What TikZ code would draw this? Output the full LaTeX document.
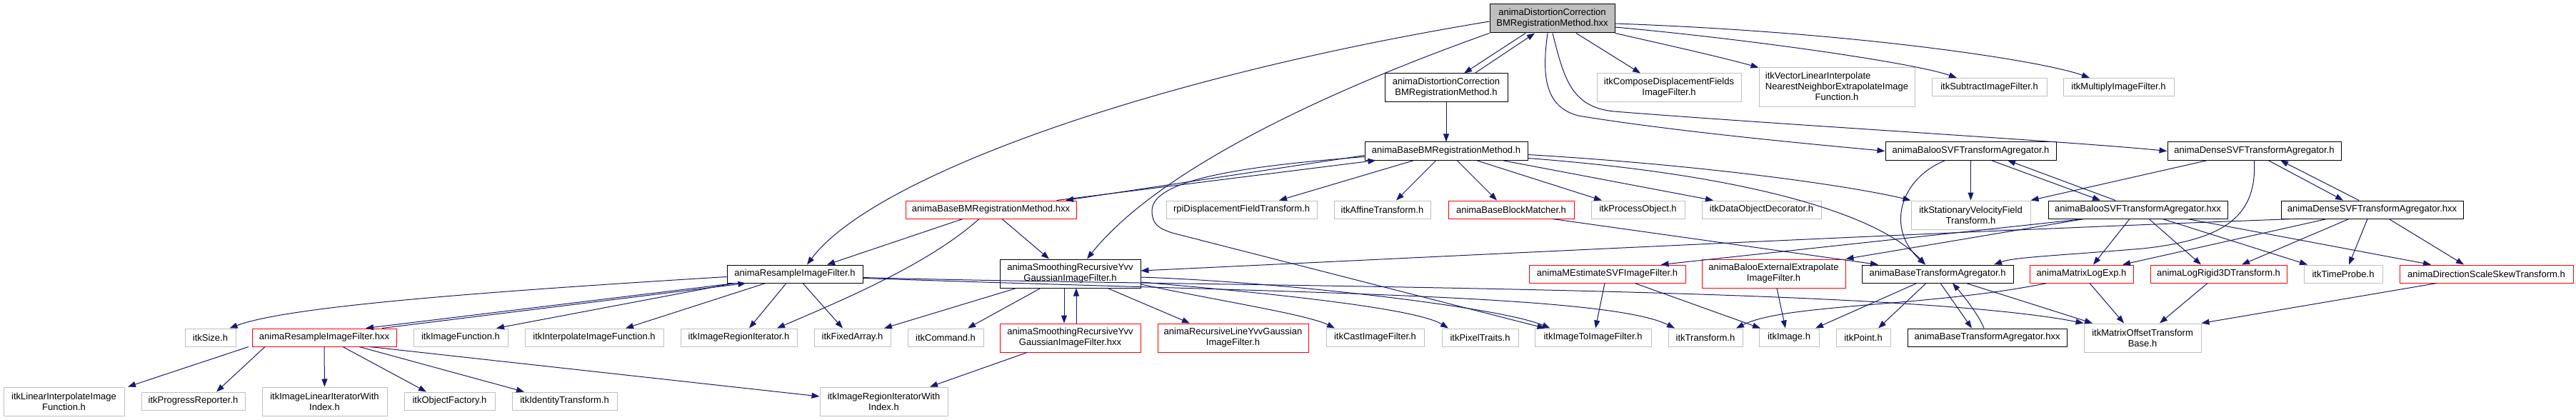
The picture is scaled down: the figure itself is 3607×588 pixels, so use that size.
\documentclass[tikz,border=0pt]{standalone}
\usepackage{fontspec}
\setmainfont{Liberation Sans}
\usetikzlibrary{arrows.meta}
\definecolor{edgec}{HTML}{191970}
\definecolor{grayb}{HTML}{BFBFBF}
\definecolor{redb}{HTML}{FF0000}
\begin{document}
\begin{tikzpicture}[x=1pt,y=-1pt,
  box/.style={draw, rectangle, inner sep=0pt, align=center, font=\fontsize{13}{15}\selectfont, line width=1pt},
  gbox/.style={box, draw=grayb},
  bbox/.style={box, draw=black},
  rbox/.style={box, draw=redb},
  tbox/.style={box, draw=black, fill=grayb},
  edge/.style={draw=edgec, line width=1pt, -{Triangle[length=11pt,width=8pt]}},
  s1/.style={minimum height=25pt},
  s2/.style={minimum height=40pt},
  s3/.style={minimum height=55pt}
]
\fill[white] (0,0) rectangle (3607,588);
\useasboundingbox (0,0) rectangle (3607,588);

% row 0
\node[tbox,s2,minimum width=175pt] (T) at (2173.5,26) {animaDistortionCorrection\\BMRegistrationMethod.hxx};
% row 1
\node[bbox,s2,minimum width=172pt] (DCh) at (2025,123) {animaDistortionCorrection\\BMRegistrationMethod.h};
\node[gbox,s2,minimum width=202pt] (Compose) at (2337,123) {itkComposeDisplacementFields\\ImageFilter.h};
\node[gbox,s3,minimum width=218pt] (VecLin) at (2572,122.5) {\begin{tabular}{@{}l@{}}itkVectorLinearInterpolate\\NearestNeighborExtrapolateImage\\\multicolumn{1}{@{}c@{}}{Function.h}\end{tabular}};
\node[gbox,s1,minimum width=161pt] (Subtract) at (2785.5,122) {itkSubtractImageFilter.h};
\node[gbox,s1,minimum width=155pt] (Multiply) at (2966.5,122) {itkMultiplyImageFilter.h};
% row 2
\node[bbox,s1,minimum width=228pt] (BBMh) at (2025,211.5) {animaBaseBMRegistrationMethod.h};
\node[bbox,s1,minimum width=239pt] (BSh) at (2759.5,211.5) {animaBalooSVFTransformAgregator.h};
\node[bbox,s1,minimum width=243pt] (DSh) at (3156.5,211.5) {animaDenseSVFTransformAgregator.h};
% row 3
\node[rbox,s1,minimum width=239pt] (BBMhxx) at (1387.5,293.5) {animaBaseBMRegistrationMethod.hxx};
\node[gbox,s1,minimum width=211pt] (rpiDisp) at (1738.5,293.5) {rpiDisplacementFieldTransform.h};
\node[gbox,s1,minimum width=135pt] (Affine) at (1935.5,293.5) {itkAffineTransform.h};
\node[rbox,s1,minimum width=176pt] (BBM) at (2116,293.5) {animaBaseBlockMatcher.h};
\node[gbox,s1,minimum width=131pt] (ProcObj) at (2293.5,293.5) {itkProcessObject.h};
\node[gbox,s1,minimum width=167pt] (DataObjDec) at (2466.5,293.5) {itkDataObjectDecorator.h};
\node[gbox,s2,minimum width=167pt] (SVF) at (2759.5,301) {itkStationaryVelocityField\\Transform.h};
\node[bbox,s1,minimum width=251pt] (BShxx) at (2993.5,293.5) {animaBalooSVFTransformAgregator.hxx};
\node[bbox,s1,minimum width=255pt] (DShxx) at (3321.5,293.5) {animaDenseSVFTransformAgregator.hxx};
% row 4
\node[bbox,s1,minimum width=190pt] (RIFh) at (1113,383.5) {animaResampleImageFilter.h};
\node[bbox,s2,minimum width=197pt] (SRh) at (1498.5,383) {animaSmoothingRecursiveYvv\\GaussianImageFilter.h};
\node[rbox,s1,minimum width=219pt] (MEst) at (2250.5,383.5) {animaMEstimateSVFImageFilter.h};
\node[rbox,s2,minimum width=201pt] (BEE) at (2483.5,383) {animaBalooExternalExtrapolate\\ImageFilter.h};
\node[bbox,s1,minimum width=212pt] (BTAh) at (2713,383.5) {animaBaseTransformAgregator.h};
\node[rbox,s1,minimum width=145pt] (MLE) at (2914.5,383.5) {animaMatrixLogExp.h};
\node[rbox,s1,minimum width=191pt] (LR3) at (3106.5,383.5) {animaLogRigid3DTransform.h};
\node[gbox,s1,minimum width=110pt] (TimeProbe) at (3281,383.5) {itkTimeProbe.h};
\node[rbox,s1,minimum width=243pt] (DSS) at (3481.5,383.5) {animaDirectionScaleSkewTransform.h};
% row 5
\node[gbox,s1,minimum width=71pt] (Size) at (294.5,472.5) {itkSize.h};
\node[rbox,s1,minimum width=202pt] (RIFhxx) at (454,472.5) {animaResampleImageFilter.hxx};
\node[gbox,s1,minimum width=132pt] (ImgFunc) at (645,472.5) {itkImageFunction.h};
\node[gbox,s1,minimum width=194pt] (InterpImgFunc) at (832,472.5) {itkInterpolateImageFunction.h};
\node[gbox,s1,minimum width=163pt] (ImgRegIt) at (1034.5,472.5) {itkImageRegionIterator.h};
\node[gbox,s1,minimum width=107pt] (FixedArray) at (1193.5,472.5) {itkFixedArray.h};
\node[gbox,s1,minimum width=106pt] (Command) at (1324,472.5) {itkCommand.h};
\node[rbox,s2,minimum width=197pt] (SRhxx) at (1498.5,473) {animaSmoothingRecursiveYvv\\GaussianImageFilter.hxx};
\node[rbox,s2,minimum width=211pt] (RLh) at (1726.5,473) {animaRecursiveLineYvvGaussian\\ImageFilter.h};
\node[gbox,s1,minimum width=137pt] (CastImg) at (1925.5,472.5) {itkCastImageFilter.h};
\node[gbox,s1,minimum width=107pt] (PixelTraits) at (2072.5,472.5) {itkPixelTraits.h};
\node[gbox,s1,minimum width=163pt] (ImgToImg) at (2230.5,472.5) {itkImageToImageFilter.h};
\node[gbox,s1,minimum width=104pt] (Transform) at (2388,472.5) {itkTransform.h};
\node[gbox,s1,minimum width=84pt] (Image) at (2505,472.5) {itkImage.h};
\node[gbox,s1,minimum width=76pt] (Point) at (2609,472.5) {itkPoint.h};
\node[bbox,s1,minimum width=223pt] (BTAhxx) at (2782.5,472.5) {animaBaseTransformAgregator.hxx};
\node[gbox,s2,minimum width=164pt] (MOTB) at (3000,473) {itkMatrixOffsetTransform\\Base.h};
% row 6
\node[gbox,s2,minimum width=169pt] (LinInterp) at (89.5,562) {itkLinearInterpolateImage\\Function.h};
\node[gbox,s1,minimum width=145pt] (ProgRep) at (270.5,561.5) {itkProgressReporter.h};
\node[gbox,s2,minimum width=175pt] (ImgLinIt) at (454.5,562) {itkImageLinearIteratorWith\\Index.h};
\node[gbox,s1,minimum width=127pt] (ObjFact) at (629.5,561.5) {itkObjectFactory.h};
\node[gbox,s1,minimum width=147pt] (IdTrans) at (790.5,561.5) {itkIdentityTransform.h};
\node[gbox,s2,minimum width=179pt] (ImgRegItWI) at (1237.5,562) {itkImageRegionIteratorWith\\Index.h};

% ---- edges from T
\draw[edge] ([xshift=-37.5pt]T.south) -- ([xshift=25pt]DCh.north);
\draw[edge] ([xshift=40pt]DCh.north) -- ([xshift=-24.5pt]T.south);
\draw[edge] ([xshift=33.5pt]T.south) -- ([xshift=-40pt]Compose.north);
\draw[edge] (T.south east) .. controls (2330,62) and (2410,80) .. (VecLin.north west);
\draw[edge] ([yshift=-12pt]T.east) .. controls (2450,55) and (2680,88) .. ([xshift=-45.5pt]Subtract.north);
\draw[edge] ([yshift=-7pt]T.east) .. controls (2600,45) and (2860,85) .. ([xshift=-40.5pt]Multiply.north);
\draw[edge] ([yshift=-4pt]T.west) .. controls (1600,110) and (1220,250) .. ([xshift=17pt]RIFh.north);
\draw[edge] (T.south west) .. controls (1850,130) and (1620,240) .. ([xshift=23.5pt]SRh.north);
\draw[edge] ([xshift=-6.5pt]T.south) .. controls (2158,110) and (2165,150) .. (2210,162) .. controls (2350,185) and (2550,203) .. (BSh.west);
\draw[edge] ([xshift=0.5pt]T.south) .. controls (2190,110) and (2200,150) .. (2260,156) .. controls (2500,175) and (2900,198) .. (DSh.west);
\draw[edge] (DCh.south) -- (BBMh.north);

% ---- edges from BBMh
\draw[edge] ([yshift=-6pt]BBMh.west) -- ([xshift=104.5pt]BBMhxx.north);
\draw[edge] ([xshift=92pt]BBMhxx.north) -- ([xshift=16pt]BBMh.south west);
\draw[edge] ([xshift=-45pt]BBMh.south) -- ([xshift=52.5pt]rpiDisp.north);
\draw[edge] ([xshift=-14pt]BBMh.south) -- ([xshift=19.5pt]Affine.north);
\draw[edge] ([xshift=15pt]BBMh.south) -- ([xshift=-20pt]BBM.north);
\draw[edge] ([xshift=42pt]BBMh.south) -- ([xshift=-50.5pt]ProcObj.north);
\draw[edge] ([xshift=78pt]BBMh.south) -- ([xshift=-67.5pt]DataObjDec.north);
\draw[edge] ([yshift=-5pt]BBMh.east) .. controls (2400,232) and (2600,262) .. (SVF.north west);
\draw[edge] ([yshift=-10pt]BBMh.east) .. controls (2450,245) and (2630,300) .. ([xshift=-17pt]BTAh.north);
\draw[edge] ([yshift=-8pt]BBMh.west) .. controls (1750,232) and (1613,250) .. (1613,295) .. controls (1613,312) and (1620,320) .. (1645,327) -- ([xshift=-67pt]ImgToImg.north);

% ---- edges from BBMhxx
\draw[edge] ([xshift=-39.5pt]BBMhxx.south) -- ([xshift=45pt]RIFh.north);
\draw[edge] ([xshift=-16.5pt]BBMhxx.south) .. controls (1300,370) and (1180,420) .. ([xshift=53.5pt]ImgRegIt.north);
\draw[edge] ([xshift=15.5pt]BBMhxx.south) -- ([xshift=-29.5pt]SRh.north);

% ---- edges from RIFh
\draw[edge] ([yshift=-4pt]RIFh.west) .. controls (650,410) and (400,430) .. ([xshift=27pt]Size.north);
\draw[edge] ([xshift=12pt]RIFh.south west) -- ([xshift=58pt]RIFhxx.north);
\draw[edge] ([xshift=81pt]RIFhxx.north) -- ([xshift=27pt]RIFh.south west);
\draw[edge] ([xshift=-85pt]RIFh.south) -- ([xshift=50pt]ImgFunc.north);
\draw[edge] ([xshift=-41pt]RIFh.south) -- ([xshift=44pt]InterpImgFunc.north);
\draw[edge] ([xshift=-12pt]RIFh.south) -- ([xshift=14.5pt]ImgRegIt.north);
\draw[edge] ([xshift=11pt]RIFh.south) -- ([xshift=-13.5pt]FixedArray.north);
\draw[edge] ([yshift=-6pt]RIFh.east) .. controls (1800,410) and (2250,412) .. ([xshift=-43pt]Transform.north);
\draw[edge] ([yshift=-5pt]RIFh.east) .. controls (1700,402) and (2650,400) .. (MOTB.north west);

% ---- edges from RIFhxx
\draw[edge] ([xshift=-106pt]RIFhxx.south) -- ([xshift=89.5pt]LinInterp.north);
\draw[edge] ([xshift=-83pt]RIFhxx.south) -- ([xshift=32.5pt]ProgRep.north);
\draw[edge] (RIFhxx.south) -- (ImgLinIt.north);
\draw[edge] ([xshift=26pt]RIFhxx.south) -- ([xshift=-32.5pt]ObjFact.north);
\draw[edge] ([xshift=49pt]RIFhxx.south) -- ([xshift=-56.5pt]IdTrans.north);
\draw[edge] ([xshift=64pt]RIFhxx.south) -- ([yshift=7pt]ImgRegItWI.west);

% ---- edges from SRh
\draw[edge] ([xshift=-8.5pt]SRh.south) -- ([xshift=-8.5pt]SRhxx.north);
\draw[edge] ([xshift=8.5pt]SRhxx.north) -- ([xshift=8.5pt]SRh.south);
\draw[edge] ([xshift=-75.5pt]SRh.south) -- ([xshift=44.5pt]FixedArray.north);
\draw[edge] ([xshift=-41.5pt]SRh.south) -- ([xshift=31pt]Command.north);
\draw[edge] ([xshift=52.5pt]SRh.south) -- ([xshift=-60.5pt]RLh.north);
\draw[edge] ([yshift=-15pt]SRh.east) .. controls (1700,420) and (1830,440) .. ([xshift=-56.5pt]CastImg.north);
\draw[edge] ([yshift=-12pt]SRh.east) .. controls (1750,408) and (1980,430) .. ([xshift=-44.5pt]PixelTraits.north);
\draw[edge] ([yshift=-5pt]SRh.east) .. controls (1800,395) and (2100,430) .. ([xshift=-60pt]ImgToImg.north);
\draw[edge] ([xshift=-60.5pt]SRhxx.south) -- ([xshift=64.5pt]ImgRegItWI.north);

% ---- Baloo / Dense
\draw[edge] ([xshift=28.5pt]BSh.south) -- ([xshift=-52.5pt]BShxx.north);
\draw[edge] ([xshift=-31.5pt]BShxx.north) -- ([xshift=51.5pt]BSh.south);
\draw[edge] (BSh.south) -- (SVF.north);
\draw[edge] ([xshift=-35.5pt]BSh.south) .. controls (2660,250) and (2640,320) .. ([xshift=-17pt]BTAh.north);
\draw[edge] ([xshift=19.5pt]DSh.south) -- ([xshift=-40.5pt]DShxx.north);
\draw[edge] ([xshift=-18.5pt]DShxx.north) -- ([xshift=36.5pt]DSh.south);
\draw[edge] ([xshift=-65.5pt]DSh.south) -- (SVF.north east);
\draw[edge] (DSh.south) .. controls (3160,300) and (3120,335) .. (3000,348) .. controls (2880,358) and (2820,360) .. ([xshift=79pt]BTAh.north);
\draw[edge] ([xshift=-75.5pt]BShxx.south) -- (BEE.north east);
\draw[edge] ([xshift=-11.5pt]BShxx.south) -- ([xshift=16.5pt]MLE.north);
\draw[edge] ([xshift=15.5pt]BShxx.south) -- ([xshift=-24.5pt]LR3.north);
\draw[edge] ([xshift=34.5pt]BShxx.south) -- ([xshift=-50pt]TimeProbe.north);
\draw[edge] ([xshift=69.5pt]BShxx.south) -- ([xshift=-77.5pt]DSS.north);
\draw[edge] ([xshift=-75.5pt]BShxx.south) -- ([xshift=75pt]MEst.north);
\draw[edge] ([xshift=-32.5pt]DShxx.south) -- ([xshift=32.5pt]LR3.north);
\draw[edge] ([xshift=-6.5pt]DShxx.south) -- ([xshift=8pt]TimeProbe.north);
\draw[edge] ([xshift=23.5pt]DShxx.south) -- ([xshift=-31.5pt]DSS.north);
\draw[edge] ([xshift=-63.5pt]DShxx.south) -- ([xshift=57.5pt]MLE.north);
\draw[edge] ([xshift=-109.5pt]DShxx.south) .. controls (2700,325) and (1900,365) .. ([yshift=4pt]SRh.east);
\draw[edge] ([xshift=58pt]BBM.south) -- ([xshift=-83pt]BTAh.north);

% ---- row 4 to row 5
\draw[edge] ([xshift=-3.5pt]MEst.south) -- ([xshift=3.5pt]ImgToImg.north);
\draw[edge] ([xshift=38.5pt]MEst.south) -- ([xshift=-40pt]Image.north);
\draw[edge] ([xshift=4.5pt]BEE.south) -- ([xshift=-5pt]Image.north);
\draw[edge] ([xshift=-29pt]BTAh.south) -- ([xshift=37pt]Image.north);
\draw[edge] ([xshift=-16pt]BTAh.south) -- ([xshift=21pt]Point.north);
\draw[edge] ([xshift=4pt]BTAh.south) -- ([xshift=-21.5pt]BTAhxx.north);
\draw[edge] ([xshift=-4.5pt]BTAhxx.north) .. controls (2770,440) and (2750,415) .. ([xshift=21pt]BTAh.south);
\draw[edge] ([xshift=40pt]BTAh.south) -- ([xshift=-70pt]MOTB.north);
\draw[edge] ([xshift=-48.5pt]MLE.south) .. controls (2700,430) and (2500,425) .. ([xshift=43pt]Transform.north);
\draw[edge] ([xshift=11.5pt]MLE.south) -- ([xshift=-26pt]MOTB.north);
\draw[edge] ([xshift=-15.5pt]LR3.south) -- ([xshift=24pt]MOTB.north);
\draw[edge] ([xshift=-69.5pt]DSS.south) -- (MOTB.north east);
\end{tikzpicture}
\end{document}
